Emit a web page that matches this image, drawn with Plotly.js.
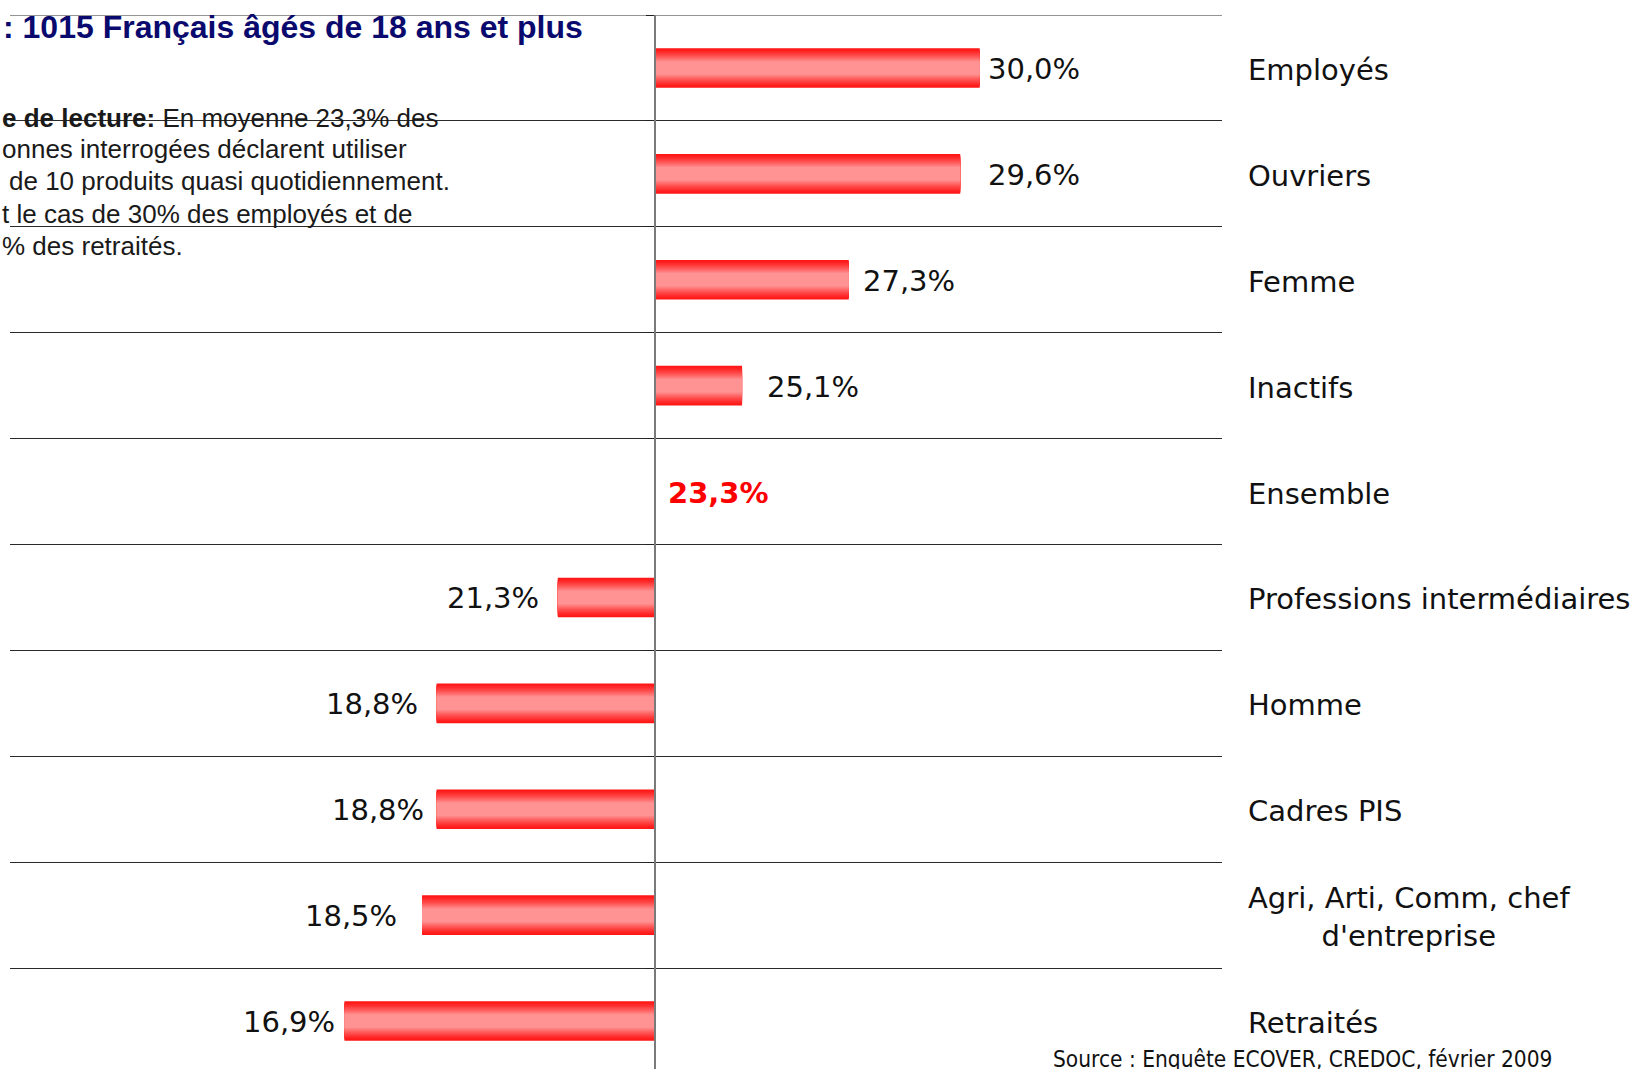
<!DOCTYPE html>
<html>
<head>
<meta charset="utf-8">
<script src="https://cdn.plot.ly/plotly-3.0.1.min.js"></script>
<style>
  html, body { margin: 0; padding: 0; background: #ffffff; }
  #chart { width: 1635px; height: 1069px; }
</style>
</head>
<body>
<div id="chart"></div>
<script>
// ---------- data ----------
const categories = [
  "Employés",
  "Ouvriers",
  "Femme",
  "Inactifs",
  "Ensemble",
  "Professions intermédiaires",
  "Homme",
  "Cadres PIS",
  "Agri, Arti, Comm, chef<br>d'entreprise",
  "Retraités"
];
const values = [30.0, 29.6, 27.3, 25.1, 23.3, 21.3, 18.8, 18.8, 18.5, 16.9];
const valueLabels = ["30,0%", "29,6%", "27,3%", "25,1%", "23,3%", "21,3%", "18,8%", "18,8%", "18,5%", "16,9%"];
const referenceIndex = 4; // "Ensemble" = baseline of the diverging bars
const titleText = ": 1015 Français âgés de 18 ans et plus";
const noteLines = [
  "<b>e de lecture:</b> En moyenne 23,3% des",
  "onnes interrogées déclarent utiliser",
  "de 10 produits quasi quotidiennement.",
  "t le cas de 30% des employés et de",
  "% des retraités."
];
const sourceText = "Source : Enquête ECOVER, CREDOC, février 2009";

// ---------- layout / style settings ----------
const W = 1635, H = 1069;
const M = { l: 10, r: 413, t: 15, b: 0 };
const PW = W - M.l - M.r, PH = H - M.t - M.b;
const xRange = [10, 35];
const bandPx = 105.9;
const yRange = [-0.5 + PH / bandPx, -0.5];
const labelGaps = [6, 26, 12, 23, 11, 17, 17, 11, 23, 8];
const noteX = [0, 0, 7, 0, 0];
const noteY = [118, 149, 181, 214, 246];

const px2x = px => (px - M.l) / PW;
const py2y = py => 1 - (py - M.t) / PH;

const baseline = values[referenceIndex];
const idx = categories.map((_, i) => i);
const lengths = values.map(v => v - baseline);

// bar gradient approximated by overlaid bars of shrinking thickness
const barWidth = 0.374;
const N = 14;
const edge = [255, 22, 22], mid = [255, 146, 146];
const traces = [];
for (let k = 0; k < N; k++) {
  const t = k / (N - 1);
  const frac = 1 - 0.66 * t;
  const c = edge.map((e, j) => Math.round(e + (mid[j] - e) * Math.pow(t, 1.25)));
  traces.push({
    type: 'bar',
    orientation: 'h',
    y: idx,
    x: lengths,
    base: values.map(() => baseline),
    width: barWidth * frac,
    marker: { color: `rgb(${c[0]},${c[1]},${c[2]})`, line: { width: 0 } },
    hoverinfo: 'skip',
    showlegend: false
  });
}

const annotations = [];
// value labels
values.forEach((v, i) => {
  const isRef = i === referenceIndex;
  const right = v >= baseline;
  annotations.push({
    xref: 'x', yref: 'y',
    x: v, y: i,
    text: isRef ? '<b>' + valueLabels[i] + '</b>' : valueLabels[i],
    showarrow: false,
    xanchor: right ? 'left' : 'right',
    yanchor: 'middle',
    xshift: right ? labelGaps[i] : -labelGaps[i],
    yshift: -1,
    font: { family: 'DejaVu Sans', size: 29, color: isRef ? '#ff0000' : '#111111' }
  });
});
// category labels on the right
categories.forEach((c, i) => {
  annotations.push({
    xref: 'paper', yref: 'y',
    x: px2x(1246), y: i,
    text: c,
    showarrow: false,
    xanchor: 'left',
    yanchor: 'middle',
    align: 'center',
    yshift: -2,
    font: { family: 'DejaVu Sans', size: 29, color: '#111111' }
  });
});
// title (clipped on the left in the original)
annotations.push({
  xref: 'paper', yref: 'paper',
  x: px2x(1), y: py2y(27),
  text: '<b>' + titleText + '</b>',
  showarrow: false, xanchor: 'left', yanchor: 'middle',
  font: { family: 'Liberation Sans, Arial', size: 32, color: '#0a0a6e' }
});
// reading note
noteLines.forEach((line, i) => {
  annotations.push({
    xref: 'paper', yref: 'paper',
    x: px2x(noteX[i]), y: py2y(noteY[i]),
    text: line,
    showarrow: false, xanchor: 'left', yanchor: 'middle',
    font: { family: 'Liberation Sans, Arial', size: 26, color: '#1a1a1a' }
  });
});
// source
annotations.push({
  xref: 'paper', yref: 'paper',
  x: px2x(1051), y: py2y(1059),
  text: sourceText,
  showarrow: false, xanchor: 'left', yanchor: 'middle',
  font: { family: 'DejaVu Sans Condensed, Liberation Sans Narrow, sans-serif', size: 22.5, color: '#111111' }
});

const boundaries = categories.map((_, i) => i - 0.5);

const layout = {
  width: W, height: H,
  margin: M,
  paper_bgcolor: '#ffffff',
  plot_bgcolor: '#ffffff',
  barmode: 'overlay',
  showlegend: false,
  xaxis: {
    range: xRange,
    visible: false,
    fixedrange: true
  },
  yaxis: {
    range: yRange,
    anchor: 'free',
    position: (baseline - xRange[0]) / (xRange[1] - xRange[0]),
    tickmode: 'array',
    tickvals: boundaries,
    showticklabels: false,
    ticks: 'outside',
    ticklen: 8,
    tickwidth: 1,
    tickcolor: '#222222',
    showgrid: true,
    gridcolor: '#2a2a2a',
    gridwidth: 1,
    showline: true,
    linecolor: '#7a7a7a',
    linewidth: 2,
    zeroline: false,
    fixedrange: true,
    layer: 'above traces'
  },
  shapes: [{
    type: 'line', xref: 'paper', yref: 'y',
    x0: 0, x1: 1, y0: boundaries[0], y1: boundaries[0],
    line: { color: '#2a2a2a', width: 1 },
    layer: 'below'
  }],
  annotations: annotations
};

Plotly.newPlot('chart', traces, layout, { displayModeBar: false, staticPlot: true });
</script>
</body>
</html>
